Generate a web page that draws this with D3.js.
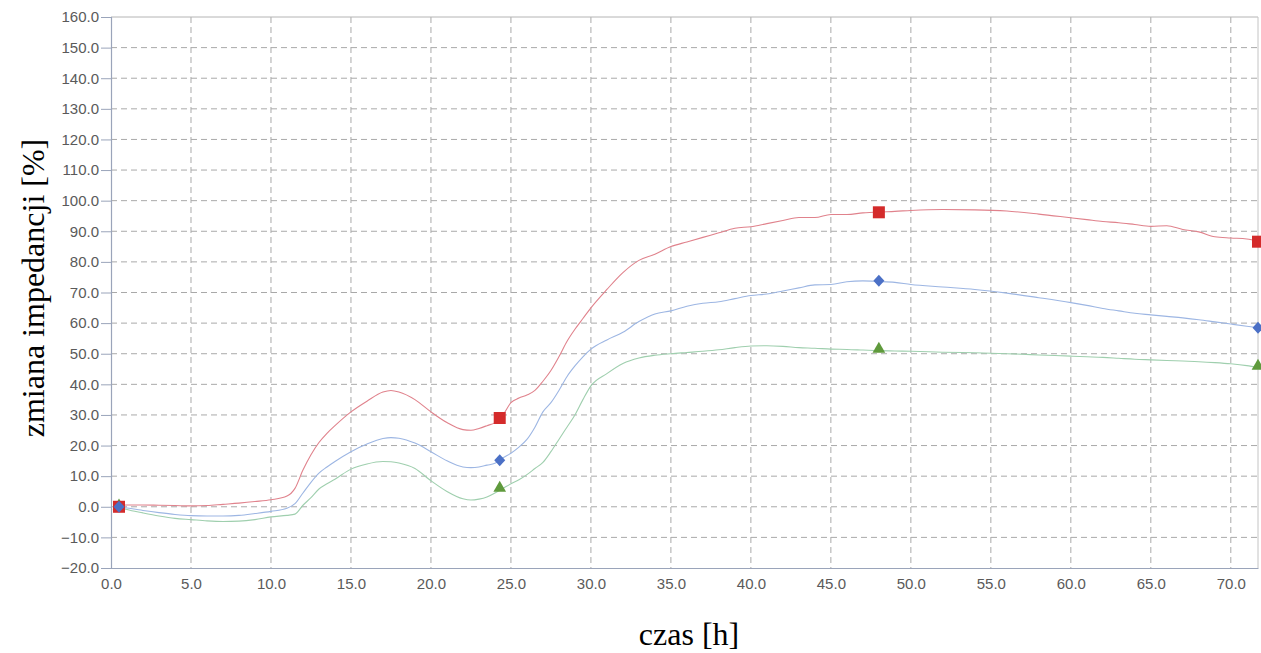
<!DOCTYPE html>
<html>
<head>
<meta charset="utf-8">
<script src="https://cdn.jsdelivr.net/npm/d3@7/dist/d3.min.js"></script>
<style>
  body { margin: 0; background: #fff; }
  svg { display: block; }
  .tick text { font-family: Arial, "Liberation Sans", sans-serif; font-size: 15px; fill: #5a5a5a; }
  .title { font-family: "Times New Roman", "Liberation Serif", serif; font-size: 32px; fill: #000; }
</style>
</head>
<body>
<svg width="1261" height="653"></svg>
<script>
// time axis [h]
const hours = [0.5, 1, 2, 3, 4, 5, 6, 7, 8, 9, 10, 11, 11.5, 12, 12.5, 13, 13.5, 14, 15, 16,
  17, 17.5, 18, 19, 20, 21, 22, 22.5, 23, 23.5, 24, 24.5, 25, 25.5, 26, 26.5, 27, 27.5, 28, 28.5,
  29, 29.5, 30, 31, 32, 33, 34, 35, 36, 37, 38, 39, 40, 41, 42, 43, 44, 45, 46, 47,
  48, 49, 50, 52, 54, 56, 58, 60, 61, 62, 63, 64, 65, 66, 67, 68, 69, 70, 71, 71.7];

// impedance change [%]
const redSeries = [0.5, 0.6, 0.6, 0.5, 0.4, 0.3, 0.4, 0.8, 1.2, 1.7, 2.3, 3.5, 6, 12, 17, 21, 24, 26.5, 31, 34.5,
  37.5, 38, 37.5, 35, 31, 27.5, 25.2, 25, 25.6, 26.5, 27.5, 30, 34, 35.5, 36.5, 38, 41, 44.5, 49, 54,
  58, 61.5, 65, 71, 76.5, 80.5, 82.5, 85, 86.5, 88, 89.5, 91, 91.5, 92.5, 93.5, 94.5, 94.5, 95.5, 95.5, 96,
  96.3, 96.5, 96.8, 97.1, 97, 96.6, 95.6, 94.4, 93.8, 93.2, 92.8, 92.2, 91.6, 91.8, 90.6, 89.8, 88.2, 87.8, 87.5, 86.8];

const blueSeries = [0, -0.4, -1.2, -1.9, -2.5, -2.9, -3.0, -3.0, -2.8, -2.2, -1.5, -0.5, 1, 4.5, 8, 11, 13, 14.8, 18, 20.5,
  22.3, 22.6, 22.4, 20.8, 18, 15, 13, 12.8, 13, 13.6, 14.2, 16, 17.5, 19.5, 22, 26, 31, 34, 38, 42.5,
  46, 49, 51.5, 54.5, 57, 60.5, 63, 64, 65.5, 66.5, 67, 68, 69, 69.5, 70.5, 71.5, 72.5, 72.6, 73.5, 73.8,
  73.6, 73.3, 72.6, 71.8, 71.0, 69.8, 68.3, 66.7, 65.8, 64.8, 64, 63.2, 62.7, 62.2, 61.7, 61.1, 60.4, 59.7, 59.0, 58.5];

const greenSeries = [0, -0.9, -2, -3, -3.8, -4.2, -4.6, -4.8, -4.7, -4.2, -3.3, -2.8, -2.4, 0.5, 3, 5.8, 7.5, 9, 12.3, 14,
  14.8, 14.7, 14.3, 12.5, 8.5, 5, 2.6, 2.2, 2.5, 3.2, 4.5, 6, 7.5, 8.8, 10.5, 12.5, 14.5, 18, 22, 26,
  30, 35, 39.5, 43.5, 46.8, 48.6, 49.5, 50, 50.4, 50.8, 51.3, 52, 52.5, 52.6, 52.4, 52, 51.8, 51.5, 51.4, 51.2,
  51, 50.9, 50.8, 50.5, 50.3, 50, 49.6, 49.2, 49, 48.8, 48.5, 48.2, 48, 47.8, 47.6, 47.4, 47.1, 46.7, 46.1, 45.5];

// measurement points
const markerHours = [0.5, 24.3, 48, 71.7];
const redMarkers = [0, 29, 96.2, 86.6];
const blueMarkers = [0, 15.2, 73.8, 58.5];
const greenMarkers = [0, 5.8, 51.2, 45.6];

const xTicks = d3.range(0, 71, 5);
const yTicks = d3.range(-20, 161, 10);

const svg = d3.select("svg");

const x = d3.scaleLinear().domain([0, 71.7]).range([111, 1258]);
const y = d3.scaleLinear().domain([-20, 160]).range([568, 17]);

// grid
const grid = svg.append("g");
grid.selectAll("line.gx")
  .data(xTicks.filter(d => d > 0))
  .enter().append("line")
  .attr("x1", d => x(d)).attr("x2", d => x(d))
  .attr("y1", y(160)).attr("y2", y(-20))
  .attr("stroke", "#a9a9a9").attr("stroke-dasharray", "6,4");
grid.selectAll("line.gy")
  .data(yTicks.filter(d => d > -20 && d < 160))
  .enter().append("line")
  .attr("x1", x(0)).attr("x2", 1258)
  .attr("y1", d => y(d)).attr("y2", d => y(d))
  .attr("stroke", "#a9a9a9").attr("stroke-dasharray", "6,4");

// frame
svg.append("line").attr("x1", x(0)).attr("x2", 1258).attr("y1", y(160)).attr("y2", y(160))
  .attr("stroke", "#b4b4b4");
svg.append("line").attr("x1", 1258).attr("x2", 1258).attr("y1", y(160)).attr("y2", y(-20))
  .attr("stroke", "#c4c4c4");

// axes
const xAxis = svg.append("g")
  .attr("transform", `translate(0,${y(-20)})`)
  .call(d3.axisBottom(x).tickValues(xTicks).tickFormat(d3.format(".1f")).tickSize(0).tickPadding(10));
const yAxis = svg.append("g")
  .attr("transform", `translate(${x(0)},0)`)
  .call(d3.axisLeft(y).tickValues(yTicks).tickFormat(d3.format(".1f")).tickSize(10).tickPadding(2));
[xAxis, yAxis].forEach(a => {
  a.select(".domain").attr("stroke", "#9aa4ba").attr("stroke-width", 1.2);
  a.selectAll(".tick line").attr("stroke", "#9aa4ba");
});
xAxis.selectAll(".tick text").attr("dy", "0.71em");

// curves
const line = d3.line()
  .curve(d3.curveMonotoneX)
  .x((d, i) => x(hours[i]))
  .y(d => y(d));

const series = [
  { values: greenSeries, color: "#9fcfae" },
  { values: blueSeries,  color: "#9db6e3" },
  { values: redSeries,   color: "#e0828c" }
];

svg.append("g").selectAll("path")
  .data(series)
  .enter().append("path")
  .attr("d", d => line(d.values))
  .attr("fill", "none")
  .attr("stroke", d => d.color)
  .attr("stroke-width", 1.1);

// markers
const markers = svg.append("g");
markers.selectAll("path.tri")
  .data(greenMarkers)
  .enter().append("path")
  .attr("d", d3.symbol().type(d3.symbolTriangle).size(70))
  .attr("transform", (d, i) => `translate(${x(markerHours[i])},${y(d) - 1})`)
  .attr("fill", "#5f9a3c");
markers.selectAll("rect.sq")
  .data(redMarkers)
  .enter().append("rect")
  .attr("x", (d, i) => x(markerHours[i]) - 6)
  .attr("y", d => y(d) - 6)
  .attr("width", 12).attr("height", 12)
  .attr("fill", "#d42b2b");
markers.selectAll("path.dia")
  .data(blueMarkers)
  .enter().append("path")
  .attr("d", "M0,-6L5.5,0L0,6L-5.5,0Z")
  .attr("transform", (d, i) => `translate(${x(markerHours[i])},${y(d)})`)
  .attr("fill", "#4b70c6");

// axis titles
svg.append("text").attr("class", "title")
  .attr("x", 689).attr("y", 645)
  .attr("text-anchor", "middle")
  .text("czas [h]");
svg.append("text").attr("class", "title")
  .attr("transform", "translate(44,288) rotate(-90)")
  .attr("text-anchor", "middle")
  .text("zmiana impedancji [%]");
</script>
</body>
</html>
